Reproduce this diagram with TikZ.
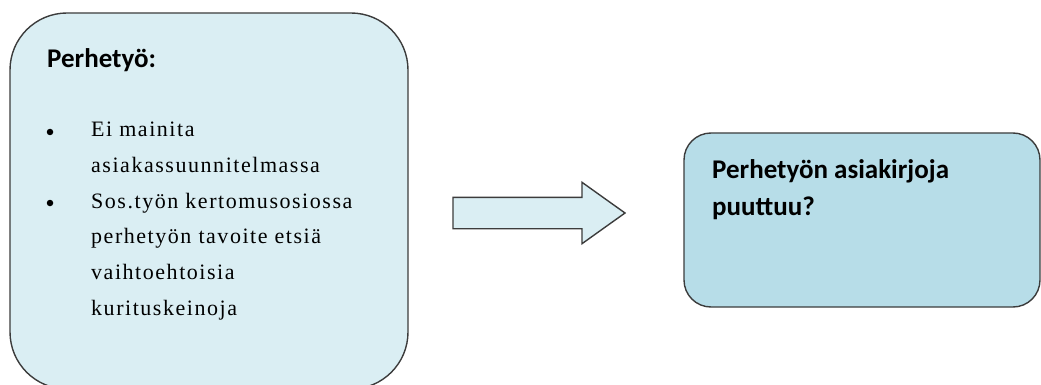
\documentclass[tikz,border=0pt]{standalone}
\usepackage{fontspec}
\setmainfont{Liberation Serif}
\newfontfamily\headfont{Carlito}
\usetikzlibrary{shapes.arrows}

\definecolor{paleblue}{HTML}{DAEEF3}
\definecolor{midblue}{HTML}{B7DDE8}
\definecolor{edgegray}{HTML}{3C3C3C}

\tikzset{
    box/.style={draw=edgegray, line width=1.4pt, inner sep=0pt},
    head/.style={anchor=base west, inner sep=0pt, align=left,
        font=\headfont\bfseries\fontsize{27}{37}\selectfont},
    item/.style={anchor=base west, inner sep=0pt, align=left,
        font=\addfontfeature{LetterSpace=7}\fontsize{22}{35.6}\selectfont},
    dot/.style={circle, fill=black, inner sep=0pt, minimum size=6.5pt}
}

\begin{document}
\begin{tikzpicture}[x=1pt, y=-1pt]
            \useasboundingbox (0,0) rectangle (1041,385);
            % the two boxes and the block arrow between them
            \node[box, fill=paleblue, rounded corners=57, minimum width=398, minimum height=376] (perhe) at (209,201) {};
            \node[box, fill=midblue, rounded corners=27, minimum width=356, minimum height=174] (puute) at (862,220) {};
            \node[box, fill=paleblue, single arrow, single arrow head extend=15, single arrow tip angle=71,
                  inner ysep=15pt, minimum height=172, minimum width=60] (nuoli) at (528,213) {};
            % texts (base anchor sits on the last line)
            \node[head] (otsikko) at (47,68) {Perhetyö:};
            \node[dot] (p1) at (50,132) {};
            \node[item] (k1) at (91,172) {Ei mainita\\asiakassuunnitelmassa};
            \node[dot] (p2) at (50,203) {};
            \node[item] (k2) at (91,315) {Sos.työn kertomusosiossa\\perhetyön tavoite etsiä\\vaihtoehtoisia\\kurituskeinoja};
            \node[head] (kysymys) at (712,215) {Perhetyön asiakirjoja\\puuttuu?};
        \end{tikzpicture}
\end{document}
